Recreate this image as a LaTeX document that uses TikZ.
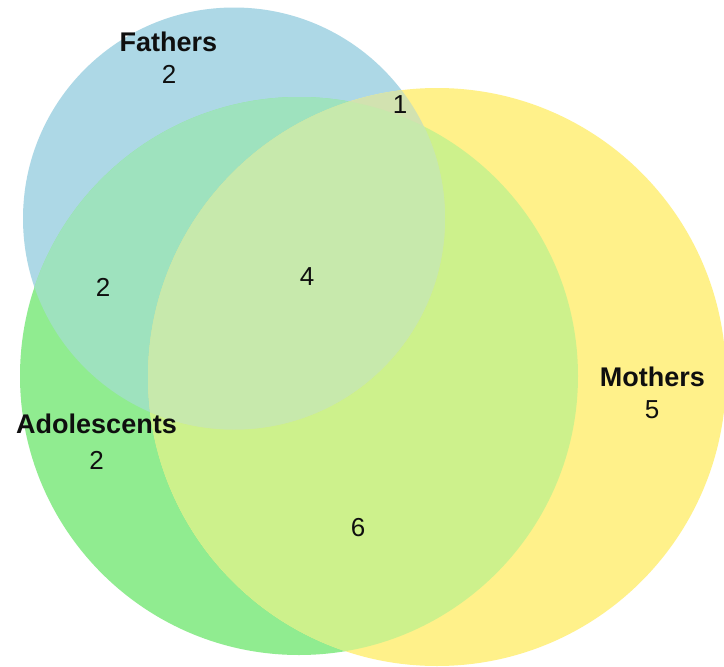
\documentclass[tikz,border=0pt]{standalone}
\usepackage{fontspec}
\setmainfont{Liberation Sans}
\definecolor{cB}{RGB}{173,216,230}
\definecolor{cG}{RGB}{144,236,144}
\definecolor{cY}{RGB}{255,241,138}
\definecolor{cBG}{RGB}{158,226,190}
\definecolor{cGY}{RGB}{205,241,140}
\definecolor{cBY}{RGB}{210,226,176}
\definecolor{cBGY}{RGB}{199,233,172}
\definecolor{txt}{RGB}{15,15,15}
\newcommand{\cirF}{(234,218.5) circle[radius=211pt]}
\newcommand{\cirA}{(299,376) circle[radius=279pt]}
\newcommand{\cirM}{(437,377) circle[radius=289pt]}
\tikzset{
  setlab/.style={anchor=base, text=txt, font=\bfseries\fontsize{27}{32}\selectfont, inner sep=0pt},
  numlab/.style={anchor=base, text=txt, font=\fontsize{26}{31}\selectfont, inner sep=0pt}
}
\begin{document}
\begin{tikzpicture}[x=1pt,y=-1pt]
\useasboundingbox (0,0) rectangle (724,667);
\fill[white] (0,0) rectangle (724,667);
\fill[cB] \cirF;
\fill[cG] \cirA;
\fill[cY] \cirM;
\begin{scope}\clip \cirF; \fill[cBG] \cirA; \end{scope}
\begin{scope}\clip \cirA; \fill[cGY] \cirM; \end{scope}
\begin{scope}\clip \cirF; \fill[cBY] \cirM; \end{scope}
\begin{scope}\clip \cirF; \clip \cirA; \fill[cBGY] \cirM; \end{scope}
\node[setlab] (fat) at (168.5,51) {Fathers};
\node[numlab] (fatn) at (169,83.5) {2};
\node[numlab] (fm) at (400,113.5) {1};
\node[numlab] (fa) at (103,296.5) {2};
\node[numlab] (fam) at (307,285.5) {4};
\node[setlab] (mot) at (652.5,386.5) {Mothers};
\node[numlab] (motn) at (652,418.5) {5};
\node[setlab] (ado) at (96.5,433.5) {Adolescents};
\node[numlab] (adon) at (96.5,469.5) {2};
\node[numlab] (am) at (358,536.5) {6};
\end{tikzpicture}
\end{document}
